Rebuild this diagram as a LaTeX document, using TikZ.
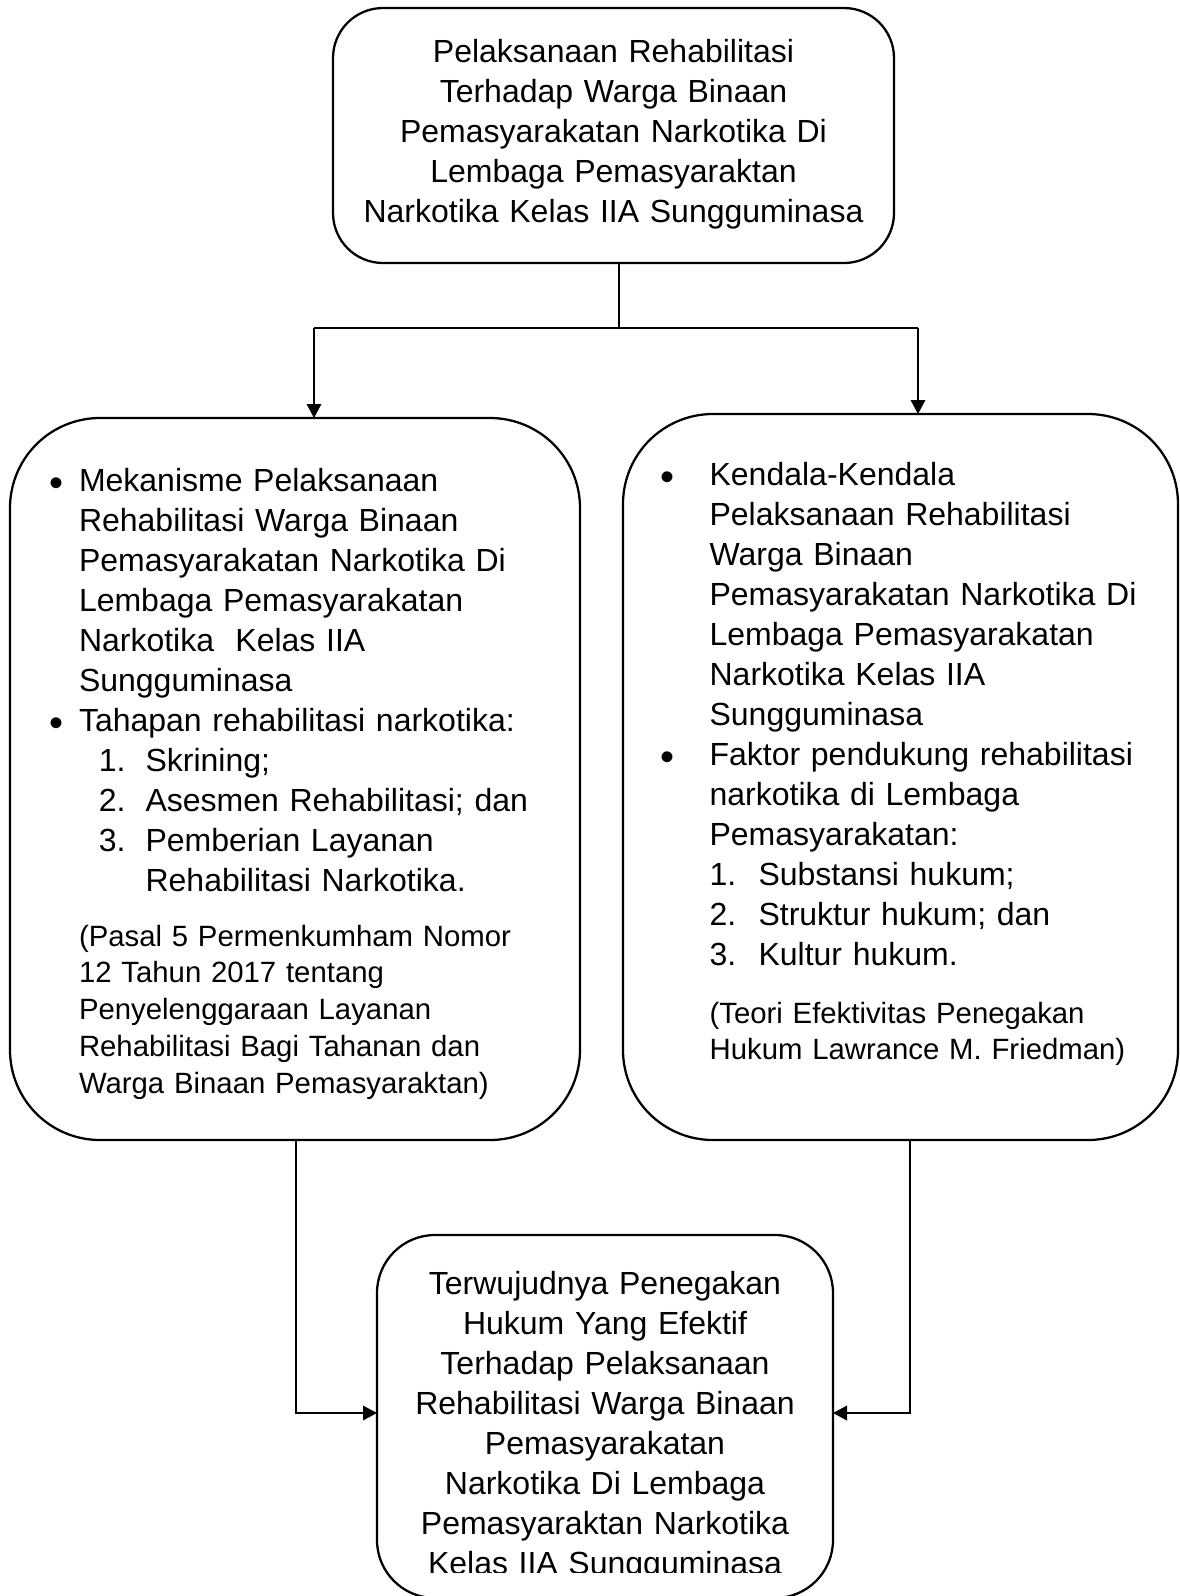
\documentclass[tikz,border=0pt]{standalone}
\usepackage{fontspec}
\setmainfont{Liberation Sans}
\usetikzlibrary{arrows.meta}
\newcommand\mybul[1]{\leavevmode\llap{\raisebox{-4pt}{\fontsize{30pt}{30pt}\selectfont •}\hspace{#1}}}
\newcommand\numitem[3]{\leavevmode\hspace*{#1}\makebox[#2][l]{#3}}
\begin{document}
\begin{tikzpicture}[x=0.75pt,y=-0.75pt,
  box/.style={draw, line width=1.7pt, inner sep=0pt, outer sep=0pt, rectangle},
  conn/.style={line width=0.9pt},
  arr/.style={conn, -{Triangle[length=10.5pt,width=11pt]}},
  bigtxt/.style={font=\fontsize{24pt}{30pt}\selectfont, inner sep=0pt, outer sep=0pt},
  smalltxt/.style={font=\fontsize{22pt}{27.6pt}\selectfont, inner sep=0pt, outer sep=0pt},
]
\useasboundingbox (0,0) rectangle (1180,1596);
\fill[white] (0,0) rectangle (1180,1596);

% boxes
\node[box, rounded corners=37.5pt, minimum width=420.75pt, minimum height=191.25pt] (top) at (613.5,135.5) {};
\node[box, rounded corners=67.5pt, minimum width=427.5pt, minimum height=541.5pt] (left) at (295,779) {};
\node[box, rounded corners=67.5pt, minimum width=416.25pt, minimum height=544.5pt] (right) at (900.5,777) {};
\node[box, rounded corners=43.5pt, minimum width=342pt, minimum height=272.25pt] (bot) at (605,1416.5) {};

% texts
\node[bigtxt, anchor=base, text width=420pt, align=center] (toptext) at (613.5,62) {%
Pelaksanaan Rehabilitasi\\
Terhadap Warga Binaan\\
Pemasyarakatan Narkotika Di\\
Lembaga Pemasyaraktan\\
Narkotika Kelas IIA Sungguminasa};

\node[bigtxt, anchor=base west, text width=380pt, align=left] (ltext) at (79,491) {%
\mybul{11.25pt}Mekanisme Pelaksanaan\\
Rehabilitasi Warga Binaan\\
Pemasyarakatan Narkotika Di\\
Lembaga Pemasyarakatan\\
Narkotika\ \ Kelas IIA\\
Sungguminasa\\
\mybul{11.25pt}Tahapan rehabilitasi narkotika:\\
\numitem{14.85pt}{35.1pt}{1.}Skrining;\\
\numitem{14.85pt}{35.1pt}{2.}Asesmen Rehabilitasi; dan\\
\numitem{14.85pt}{35.1pt}{3.}Pemberian Layanan\\
\leavevmode\hspace*{49.95pt}Rehabilitasi Narkotika.};

\node[smalltxt, anchor=base west, text width=380pt, align=left] (lcite) at (79,946) {%
(Pasal 5 Permenkumham Nomor\\
12 Tahun 2017 tentang\\
Penyelenggaraan Layanan\\
Rehabilitasi Bagi Tahanan dan\\
Warga Binaan Pemasyaraktan)};

\node[bigtxt, anchor=base west, text width=345pt, align=left] (rtext) at (709.6,485.5) {%
\mybul{26.7pt}Kendala-Kendala\\
Pelaksanaan Rehabilitasi\\
Warga Binaan\\
Pemasyarakatan Narkotika Di\\
Lembaga Pemasyarakatan\\
Narkotika Kelas IIA\\
Sungguminasa\\
\mybul{26.7pt}Faktor pendukung rehabilitasi\\
narkotika di Lembaga\\
Pemasyarakatan:\\
\numitem{0pt}{36.7pt}{1.}Substansi hukum;\\
\numitem{0pt}{36.7pt}{2.}Struktur hukum; dan\\
\numitem{0pt}{36.7pt}{3.}Kultur hukum.};

\node[smalltxt, anchor=base west, text width=345pt, align=left] (rcite) at (709.6,1023) {%
(Teori Efektivitas Penegakan\\
Hukum Lawrance M. Friedman)};

\begin{scope}
\clip (0,0) rectangle (1180,1572);
\node[bigtxt, anchor=base, text width=340pt, align=center] (bottext) at (605,1294) {%
Terwujudnya Penegakan\\
Hukum Yang Efektif\\
Terhadap Pelaksanaan\\
Rehabilitasi Warga Binaan\\
Pemasyarakatan\\
Narkotika Di Lembaga\\
Pemasyaraktan Narkotika\\
Kelas IIA Sungguminasa};
\end{scope}

% connectors
\coordinate (jt) at (619,328);
\coordinate (jl) at (314,328);
\coordinate (jr) at (918,328);
\coordinate (bl) at (296,1413);
\coordinate (br) at (910,1413);
\draw[conn] (top.south -| jt) -- (jt);
\draw[conn] (jl) -- (jr);
\draw[arr] (jl) -- (jl |- left.north);
\draw[arr] (jr) -- (jr |- right.north);
\draw[arr] (left.south -| bl) -- (bl) -- (bl -| bot.west);
\draw[arr] (right.south -| br) -- (br) -- (br -| bot.east);
\end{tikzpicture}
\end{document}
